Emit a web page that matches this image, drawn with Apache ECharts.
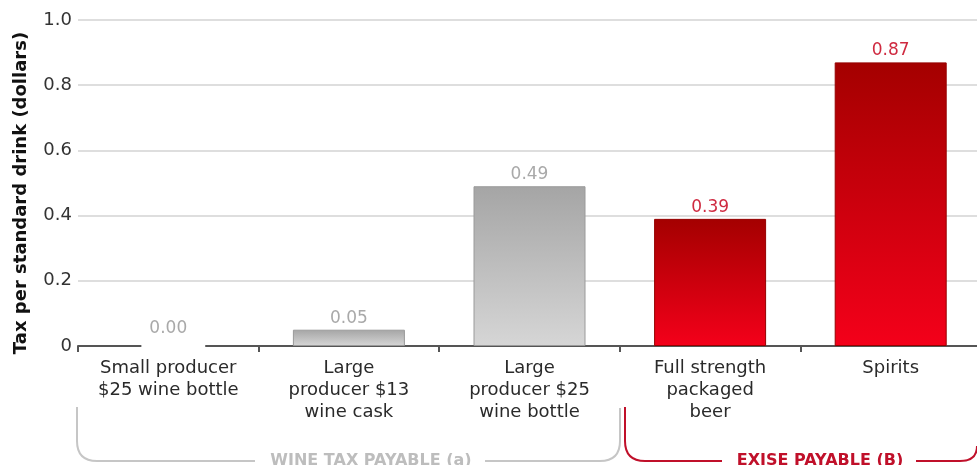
<!DOCTYPE html>
<html>
<head>
<meta charset="utf-8">
<script src="https://cdn.jsdelivr.net/npm/echarts@6/dist/echarts.min.js"></script>
<style>
  html, body { margin: 0; padding: 0; background: #fff; }
  #chart { width: 977px; height: 465px; }
</style>
</head>
<body>
<div id="chart"></div>
<script>
// data
const categories = [
  "Small producer\n$25 wine bottle",
  "Large\nproducer $13\nwine cask",
  "Large\nproducer $25\nwine bottle",
  "Full strength\npackaged\nbeer",
  "Spirits"
];
const taxValues = [0.00, 0.05, 0.49, 0.39, 0.87];
const groupType = ["wine", "wine", "wine", "excise", "excise"];
const yTicks = { min: 0, max: 1.0, interval: 0.2 };

const FONT = "'DejaVu Sans', Verdana, sans-serif";

const greyFill = () => new echarts.graphic.LinearGradient(0, 0, 0, 1, [
  { offset: 0, color: "#a5a5a5" },
  { offset: 1, color: "#d6d6d6" }
]);
const redFill = () => new echarts.graphic.LinearGradient(0, 0, 0, 1, [
  { offset: 0, color: "#a40000" },
  { offset: 1, color: "#f4001a" }
]);

const barData = taxValues.map((v, i) => {
  const wine = groupType[i] === "wine";
  const item = {
    value: v,
    itemStyle: {
      color: wine ? greyFill() : redFill(),
      borderColor: wine ? "#9a9a9a" : "#960000",
      borderWidth: 1
    },
    label: { color: wine ? "#a9a9a9" : "#cf2a40" }
  };
  // the zero label sits on a white patch that breaks the axis line
  if (v === 0) {
    item.itemStyle.borderWidth = 0;
    item.label.backgroundColor = "#fff";
    item.label.padding = [2, 18, 12, 8];
    item.label.offset = [5, 0];
    item.label.distance = -3;
  }
  return item;
});

// bracket pieces under the axis labels
function seg(pts, color) {
  return { type: "polyline", shape: { points: pts }, style: { stroke: color, lineWidth: 2, fill: null } };
}
function corner(x1, y1, cx, cy, x2, y2, color) {
  return {
    type: "bezierCurve",
    shape: { x1: x1, y1: y1, cpx1: cx, cpy1: cy, x2: x2, y2: y2 },
    style: { stroke: color, lineWidth: 2, fill: null }
  };
}
const GREY = "#c6c6c6";
const RED = "#c0102a";

const chart = echarts.init(document.getElementById("chart"));

chart.setOption({
  animation: false,
  grid: { left: 78, width: 903, top: 20, bottom: 119, outerBoundsMode: "none", containLabel: false },
  xAxis: {
    type: "category",
    data: categories,
    axisLine: { lineStyle: { color: "#555", width: 2 } },
    axisTick: { show: true, length: 6, lineStyle: { color: "#555", width: 2 } },
    axisLabel: {
      color: "#2a2a2a",
      fontFamily: FONT,
      fontSize: 18,
      lineHeight: 22,
      margin: 11,
      interval: 0
    }
  },
  yAxis: {
    type: "value",
    min: yTicks.min,
    max: yTicks.max,
    interval: yTicks.interval,
    name: "Tax per standard drink (dollars)",
    nameLocation: "middle",
    nameGap: 48,
    nameTextStyle: {
      color: "#111",
      fontFamily: FONT,
      fontSize: 18,
      fontWeight: "bold",
      padding: [0, 20, 0, 0]
    },
    axisLine: { show: false },
    axisTick: { show: false },
    axisLabel: {
      color: "#333",
      fontFamily: FONT,
      fontSize: 18,
      margin: 6,
      formatter: v => (v === 0 ? "0" : v.toFixed(1))
    },
    splitLine: { lineStyle: { color: "#dedede", width: 2 } }
  },
  series: [{
    type: "bar",
    data: barData,
    barWidth: 112,
    label: {
      show: true,
      position: "top",
      distance: 3,
      fontFamily: FONT,
      fontSize: 17,
      formatter: p => p.value.toFixed(2)
    }
  }],
  graphic: [
    seg([[77, 407], [77, 441]], GREY),
    corner(77, 441, 77, 461, 97, 461, GREY),
    seg([[97, 461], [255, 461]], GREY),
    seg([[485, 461], [600, 461]], GREY),
    corner(600, 461, 620, 461, 620, 441, GREY),
    seg([[620, 441], [620, 408]], GREY),
    {
      type: "text",
      x: 371, y: 461,
      style: {
        text: "WINE TAX PAYABLE (a)",
        fill: "#bdbdbd",
        font: "bold 16px " + FONT,
        align: "center",
        verticalAlign: "middle"
      }
    },
    seg([[625, 407], [625, 441]], RED),
    corner(625, 441, 625, 461, 645, 461, RED),
    seg([[645, 461], [722, 461]], RED),
    seg([[916, 461], [960, 461]], RED),
    corner(960, 461, 977, 461, 977, 446, RED),
    {
      type: "text",
      x: 820, y: 461,
      style: {
        text: "EXISE PAYABLE (B)",
        fill: RED,
        font: "bold 16px " + FONT,
        align: "center",
        verticalAlign: "middle"
      }
    }
  ]
});
</script>
</body>
</html>
